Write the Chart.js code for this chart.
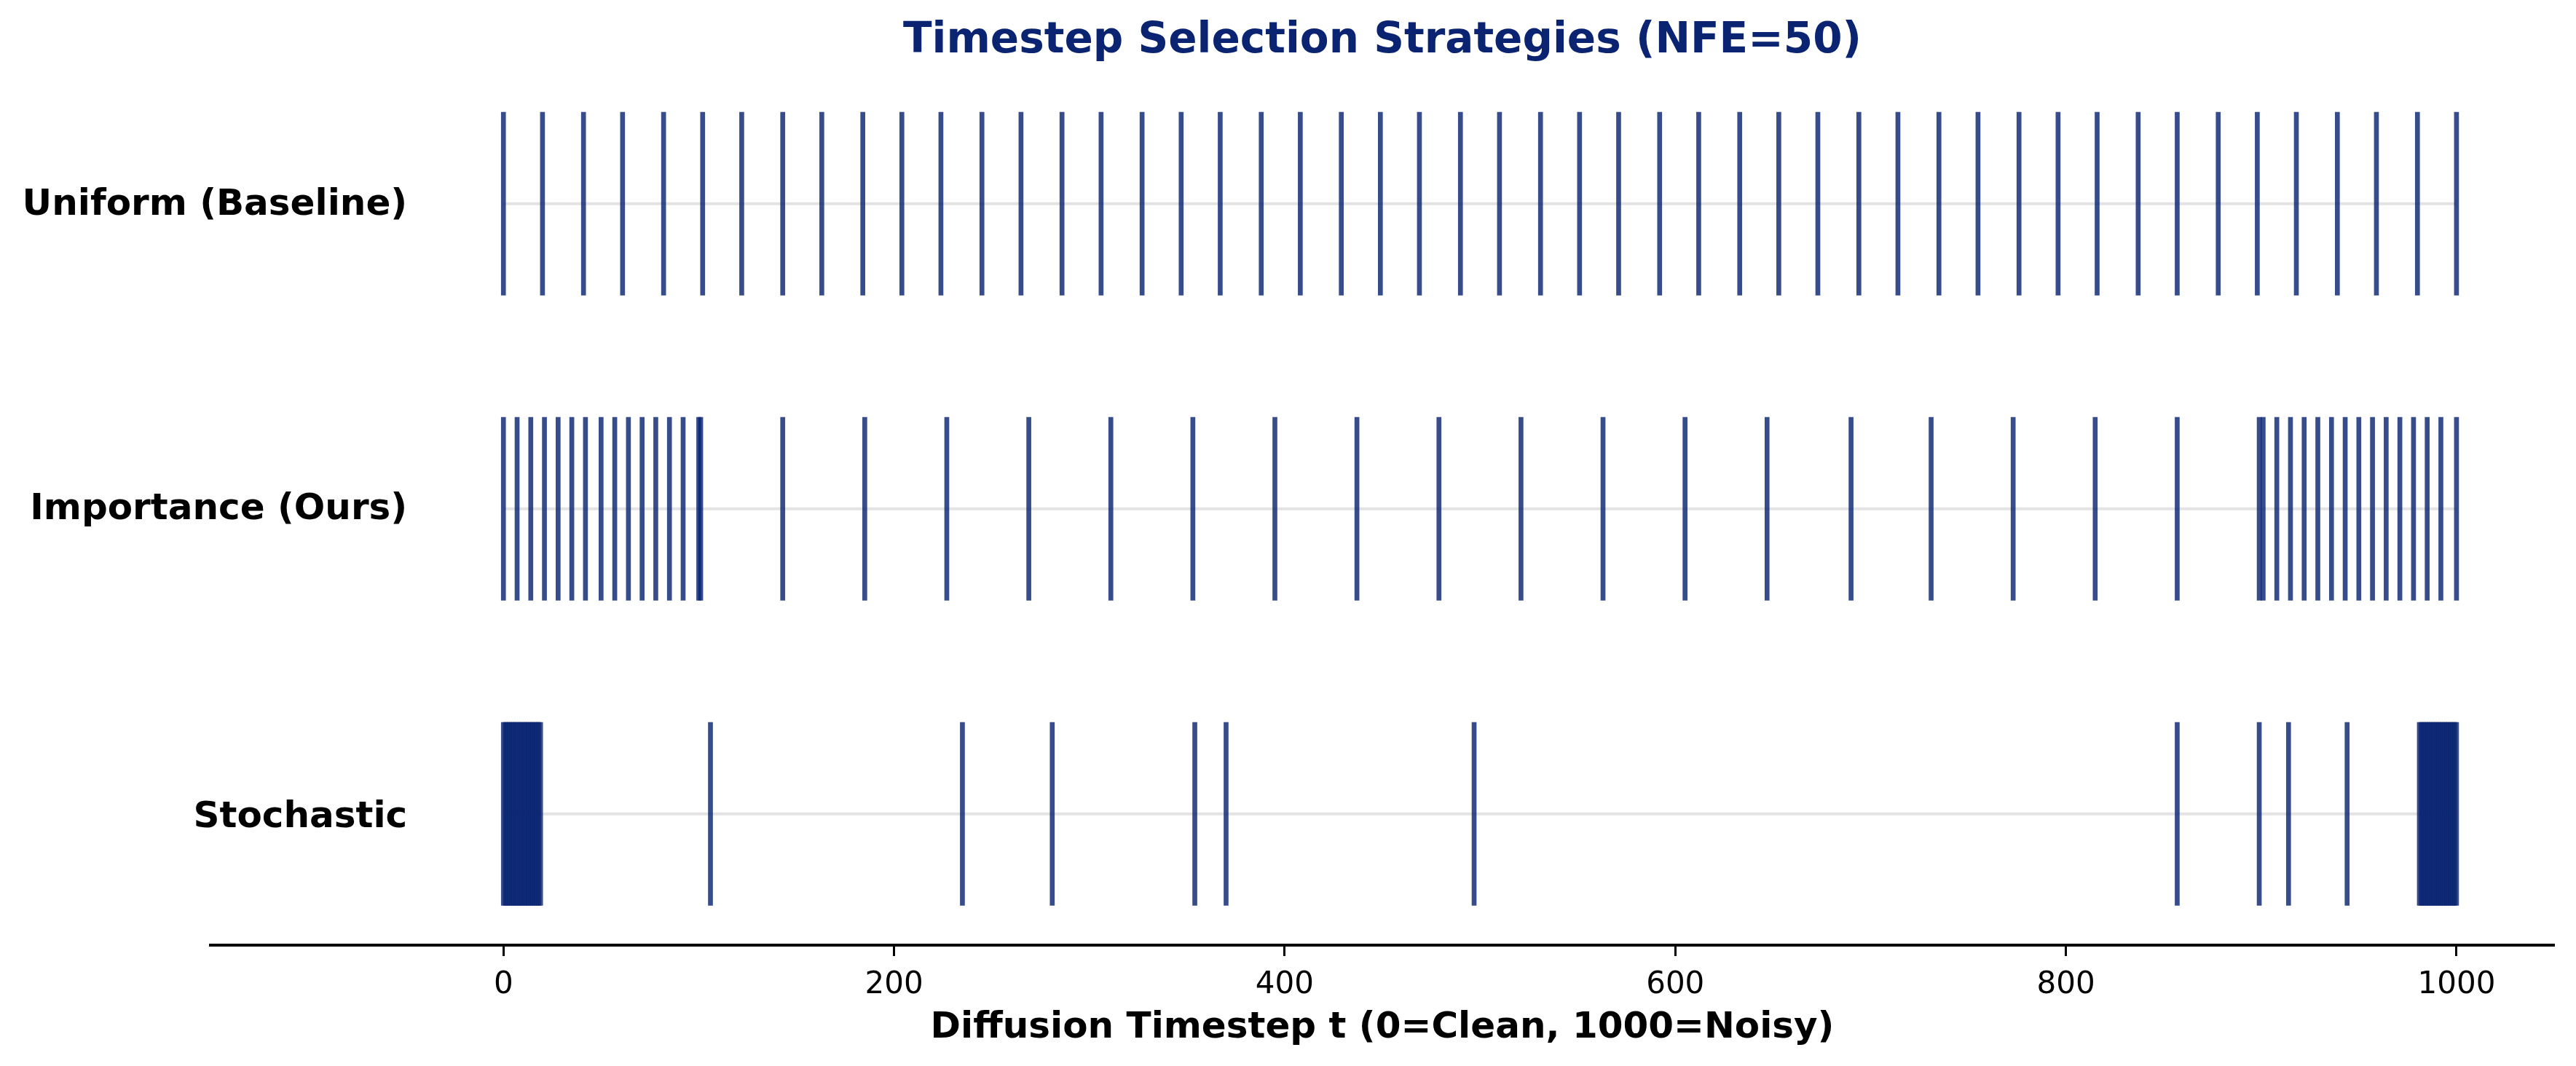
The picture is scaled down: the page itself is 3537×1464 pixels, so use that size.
<!DOCTYPE html>
<html>
<head>
<meta charset="utf-8">
<title>Timestep Selection Strategies</title>
<script src="https://cdn.jsdelivr.net/npm/chart.js@4.4.1/dist/chart.umd.min.js"></script>
<style>
  html, body { margin: 0; padding: 0; background: #fff; }
  #wrap { width: 3537px; height: 1464px; position: relative; }
</style>
</head>
<body>
<div id="wrap"><canvas id="timestepChart"></canvas></div>
<script>
// ===== DATA =====
const rowNames = ["Uniform (Baseline)", "Importance (Ours)", "Stochastic"];
const rowOffsets = [2, 1, 0];

const uniformSteps = [
  0, 20, 41, 61, 82, 102, 122, 143, 163, 184, 204, 224, 245, 265, 286, 306, 327,
  347, 367, 388, 408, 429, 449, 469, 490, 510, 531, 551, 571, 592, 612, 633, 653,
  673, 694, 714, 735, 755, 776, 796, 816, 837, 857, 878, 898, 918, 939, 959, 980, 1000,
];

const importanceSteps = [
  0, 7, 14, 21, 28, 35, 42, 50, 57, 64, 71, 78, 85, 92, 100,
  101, 143, 185, 227, 269, 311, 353, 395, 437, 479, 521, 563, 605, 647, 690, 731,
  773, 815, 857, 899,
  901, 908, 915, 922, 929, 936, 943, 950, 957, 964, 971, 978, 985, 992, 1000,
];

const stochasticSteps = [
  0, 1, 2, 3, 4, 5, 6, 7, 8, 9, 10, 11, 12, 13, 14, 15, 16, 17, 18, 19,
  106, 235, 281, 354, 370, 497, 857, 899, 914, 944,
  981, 982, 983, 984, 985, 986, 987, 988, 989, 990, 991, 992, 993, 994, 995, 996,
  997, 998, 999, 1000,
];

const xTicks = [0, 200, 400, 600, 800, 1000];
const guideRange = [0, 1000];
const labelX = -50;

const chartTitle = "Timestep Selection Strategies (NFE=50)";
const xTitle = "Diffusion Timestep t (0=Clean, 1000=Noisy)";

// ===== STYLE =====
const navy = "#0a2472";
const eventColor = "rgba(10, 36, 114, 0.82)";
const halfLen = 0.3;
Chart.defaults.font.family = "'DejaVu Sans', sans-serif";

// each step becomes a thin floating bar spanning its row
const rows = [uniformSteps, importanceSteps, stochasticSteps];
const eventData = [];
rows.forEach((steps, i) => {
  steps.forEach((t) => {
    eventData.push({ x: t, y: [rowOffsets[i] - halfLen, rowOffsets[i] + halfLen] });
  });
});

const guideSets = rowOffsets.map((off) => ({
  type: "line",
  data: guideRange.map((x) => ({ x: x, y: off })),
  borderColor: "#e3e3e3",
  borderWidth: 4,
  pointRadius: 0,
  order: 5,
}));

// row names drawn as text, right aligned at x = labelX, bbox centred on the row
const rowLabels = {
  id: "rowLabels",
  afterDatasetsDraw(chart) {
    const { ctx, scales } = chart;
    ctx.save();
    ctx.font = "bold 50px 'DejaVu Sans'";
    ctx.fillStyle = "#000";
    ctx.textAlign = "right";
    ctx.textBaseline = "alphabetic";
    rowNames.forEach((name, i) => {
      const m = ctx.measureText(name);
      const cy = scales.y.getPixelForValue(rowOffsets[i]);
      const y = cy + (m.actualBoundingBoxAscent - m.actualBoundingBoxDescent) / 2;
      ctx.fillText(name, scales.x.getPixelForValue(labelX) + 2, y);
    });
    ctx.restore();
  },
};

new Chart(document.getElementById("timestepChart"), {
  type: "bar",
  data: {
    datasets: [
      {
        data: eventData,
        backgroundColor: eventColor,
        borderWidth: 0,
        barThickness: 6,
        order: 1,
      },
      ...guideSets,
    ],
  },
  options: {
    responsive: true,
    maintainAspectRatio: false,
    animation: false,
    layout: { padding: { left: 289, right: 30, top: 0, bottom: 22 } },
    plugins: {
      legend: { display: false },
      tooltip: { enabled: false },
      title: {
        display: true,
        text: chartTitle,
        color: navy,
        fullSize: false,
        font: { size: 58, weight: "bold" },
        padding: { top: 22, bottom: 8 },
      },
    },
    scales: {
      x: {
        type: "linear",
        min: -150,
        max: 1050,
        offset: false,
        afterBuildTicks: (scale) => {
          scale.ticks = xTicks.map((v) => ({ value: v }));
        },
        afterFit: (scale) => {
          scale.height = 144;
        },
        grid: {
          display: true,
          offset: false,
          drawOnChartArea: false,
          drawTicks: true,
          tickLength: 15,
          tickWidth: 3,
          tickColor: "#000",
        },
        border: { display: true, color: "#000", width: 4 },
        ticks: {
          color: "#000",
          font: { size: 42 },
          padding: 15,
          maxRotation: 0,
          callback: (value) => String(value),
        },
        title: {
          display: true,
          text: xTitle,
          color: "#000",
          font: { size: 50, weight: "bold" },
          padding: { top: 4, bottom: 0 },
        },
      },
      y: {
        type: "linear",
        display: false,
        stacked: false,
        min: -0.43,
        max: 2.43,
      },
    },
  },
  plugins: [rowLabels],
});
</script>
</body>
</html>
